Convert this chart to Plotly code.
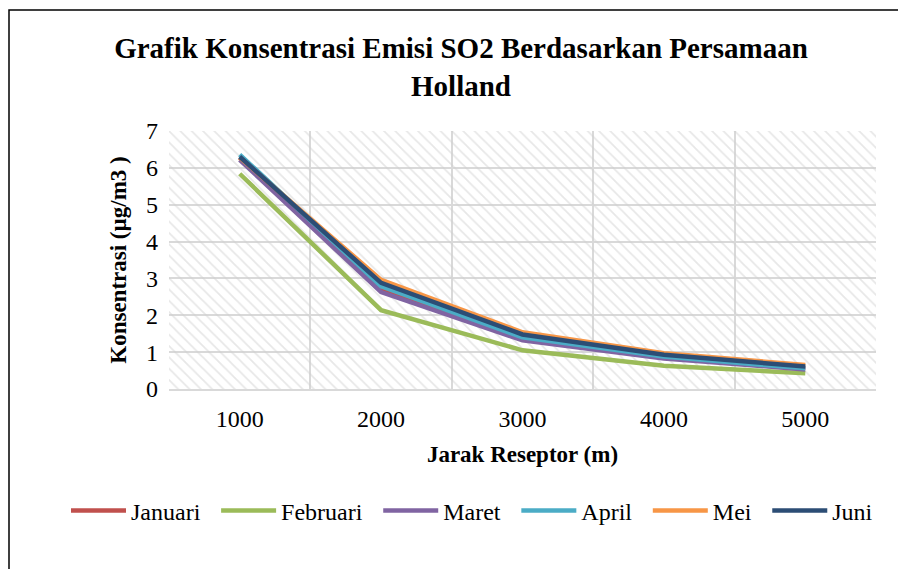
import plotly.graph_objects as go

jarak = [1000, 2000, 3000, 4000, 5000]
tick_labels = ["1000", "2000", "3000", "4000", "5000"]
januari = [6.27, 2.73, 1.38, 0.87, 0.57]
februari = [5.84, 2.14, 1.05, 0.63, 0.43]
maret = [6.22, 2.63, 1.32, 0.83, 0.53]
april = [6.36, 2.79, 1.40, 0.88, 0.56]
mei = [6.28, 2.96, 1.54, 0.97, 0.65]
juni = [6.30, 2.88, 1.48, 0.93, 0.61]

series = [
    ("Januari", januari, "#C0504D"),
    ("Februari", februari, "#9BBB59"),
    ("Maret", maret, "#8064A2"),
    ("April", april, "#4BACC6"),
    ("Mei", mei, "#F79646"),
    ("Juni", juni, "#2C4D75"),
]

XMIN, XMAX = 500, 5500
YMIN, YMAX = 0, 7
FONT = "Liberation Serif, Times New Roman, serif"
PAD = "\u00a0\u2009"  # extra spacing after legend labels

fig = go.Figure()

# hatched plot-area background
fig.add_trace(go.Scatter(
    x=[XMIN, XMAX, XMAX, XMIN, XMIN], y=[YMIN, YMIN, YMAX, YMAX, YMIN],
    mode="lines", line=dict(width=0), fill="toself",
    fillcolor="rgba(0,0,0,0)",
    fillpattern=dict(shape="\\", fgcolor="#cfcfcf", bgcolor="rgba(0,0,0,0)",
                     size=8, solidity=0.22),
    hoverinfo="skip", showlegend=False,
))

for i, (name, vals, color) in enumerate(series):
    label = name + (PAD if i < len(series) - 1 else "")
    fig.add_trace(go.Scatter(
        x=jarak, y=vals, name=label, mode="lines",
        line=dict(color=color, width=4.5),
    ))

# page body has an 8px margin, so figure coords = reference coords - 8
W, H = 898, 561
L, R, T, B = 161, 30, 123, 180
pw, ph = W - L - R, H - T - B

def px_to_paper_x(px):
    return (px - L) / pw

def px_to_paper_y(py):
    return (H - B - py) / ph

fig.update_layout(
    width=W, height=H,
    margin=dict(l=L, r=R, t=T, b=B, autoexpand=False),
    paper_bgcolor="white", plot_bgcolor="white",
    font=dict(family=FONT, color="black"),
    title=dict(
        text="<b>Grafik Konsentrasi Emisi SO2 Berdasarkan Persamaan<br>Holland</b>",
        font=dict(size=29, family=FONT, color="black"),
        x=453 / W, xref="container", xanchor="center",
        y=1 - 50 / H, yref="container", yanchor="middle",
    ),
    xaxis=dict(
        range=[XMIN, XMAX], tickvals=jarak, ticktext=tick_labels,
        showgrid=False, zeroline=False,
        showline=True, linecolor="#d9d9d9", linewidth=1.5,
        ticks="", tickfont=dict(size=24, family=FONT), ticklabelstandoff=7,
        minor=dict(tick0=XMIN, dtick=1000, showgrid=True,
                   gridcolor="#d9d9d9", gridwidth=1.5, ticks=""),
        title=dict(text="<b>Jarak Reseptor (m)</b>",
                   font=dict(size=23, family=FONT), standoff=15),
    ),
    yaxis=dict(
        range=[YMIN, YMAX], dtick=1,
        showgrid=True, gridcolor="#d9d9d9", gridwidth=1.5,
        zeroline=False, ticks="", tickfont=dict(size=24, family=FONT),
        ticklabelstandoff=10,
        title=dict(text="<b>Konsentrasi (µg/m3 )</b>",
                   font=dict(size=23, family=FONT), standoff=12),
    ),
    legend=dict(
        orientation="h", xref="paper", yref="paper",
        x=px_to_paper_x(58), xanchor="left",
        y=px_to_paper_y(503), yanchor="middle",
        font=dict(size=24, family=FONT), itemwidth=55,
        bgcolor="rgba(0,0,0,0)",
    ),
    shapes=[dict(
        type="rect", xref="paper", yref="paper",
        x0=px_to_paper_x(1), x1=px_to_paper_x(915),
        y0=px_to_paper_y(580), y1=px_to_paper_y(2),
        line=dict(color="black", width=1.5), fillcolor="rgba(0,0,0,0)",
        layer="above",
    )],
)

fig.write_html("out.html")
